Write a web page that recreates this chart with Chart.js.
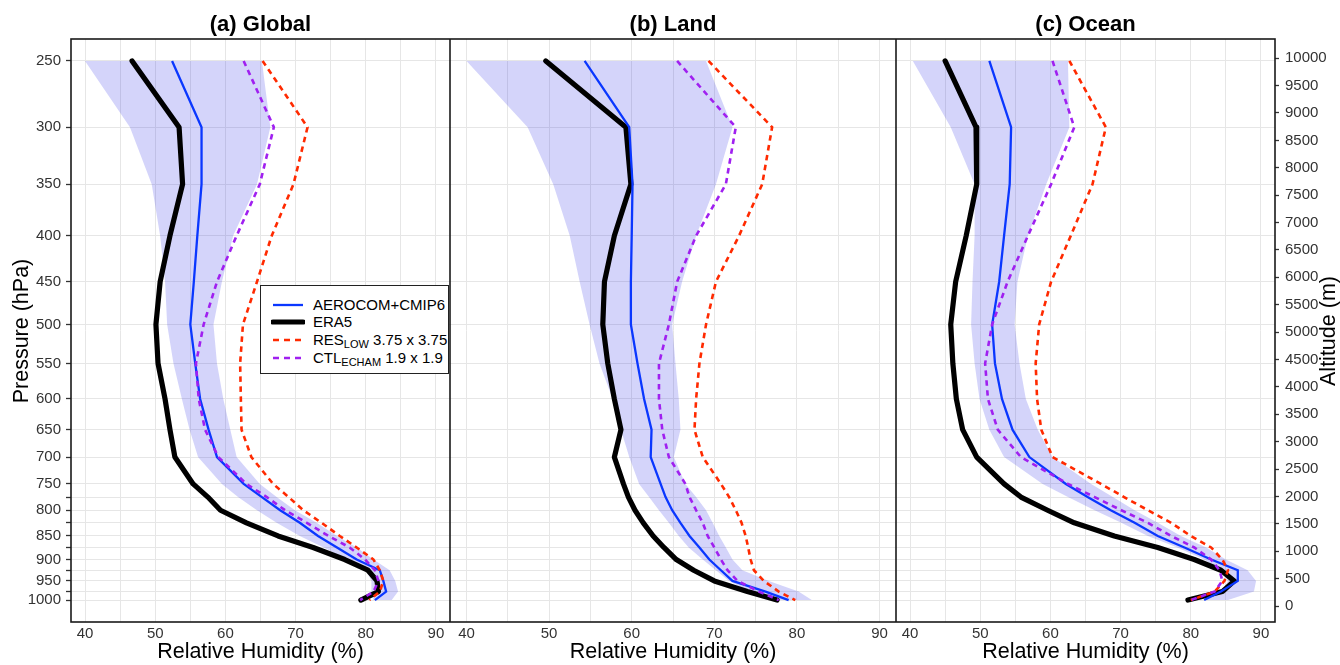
<!DOCTYPE html>
<html>
<head>
<meta charset="utf-8">
<script src="https://cdn.jsdelivr.net/npm/chart.js@4.4.1/dist/chart.umd.min.js"></script>
<style>
  html, body { margin: 0; padding: 0; background: #fff; }
  body { width: 1340px; height: 665px; position: relative; overflow: hidden;
         font-family: "Liberation Sans", Arial, Helvetica, sans-serif; color: #000; }
  canvas { position: absolute; top: 0; }
  .ptitle { position: absolute; top: 13px; height: 22px; line-height: 22px; font-size: 22px;
            font-weight: bold; text-align: center; white-space: nowrap; }
  .xtitle { position: absolute; top: 640px; height: 22px; line-height: 22px; font-size: 21.5px;
            text-align: center; white-space: nowrap; }
  .ytitle { position: absolute; width: 200px; height: 22px; line-height: 22px; font-size: 21.5px;
            text-align: center; white-space: nowrap; transform: rotate(-90deg); }
  #legend { position: absolute; left: 260px; top: 285px; width: 189px; height: 89px;
            box-sizing: border-box; border: 1.5px solid #222; background: #fff; font-size: 15px; }
  #legend .row { position: absolute; left: 0; height: 18px; line-height: 18px; white-space: nowrap; }
  #legend svg { position: absolute; left: 10px; top: 0; }
  #legend .txt { position: absolute; left: 52px; top: 0; }
  #legend sub { font-size: 11px; vertical-align: -3px; line-height: 0; }
</style>
</head>
<body>
<canvas id="cA" width="450" height="665" style="left:0px"></canvas>
<canvas id="cB" width="446" height="665" style="left:450px"></canvas>
<canvas id="cC" width="444" height="665" style="left:896px"></canvas>

<div class="ptitle" style="left:71px;width:379px">(a) Global</div>
<div class="ptitle" style="left:450px;width:446px">(b) Land</div>
<div class="ptitle" style="left:896px;width:379px">(c) Ocean</div>

<div class="xtitle" style="left:71px;width:379px">Relative Humidity (%)</div>
<div class="xtitle" style="left:450px;width:446px">Relative Humidity (%)</div>
<div class="xtitle" style="left:896px;width:379px">Relative Humidity (%)</div>

<div class="ytitle" style="left:-79px;top:320px">Pressure (hPa)</div>
<div class="ytitle" style="left:1227.5px;top:320px">Altitude (m)</div>

<div id="legend"></div>

<script>
// ---------------- data ----------------
const pressureLevels = [250, 300, 350, 400, 450, 500, 550, 600, 650, 700, 750, 775, 800, 825, 850, 875, 900, 925, 950, 975, 1000];
// mean altitude (m) of each pressure level, as placed on the figure's altitude axis
const levelAltitude = [9950, 8740, 7700, 6760, 5920, 5140, 4430, 3780, 3220, 2720, 2230, 1990, 1750, 1520, 1280, 1070, 850, 655, 460, 265, 110];
const altitudeTicks = [0, 500, 1000, 1500, 2000, 2500, 3000, 3500, 4000, 4500, 5000, 5500, 6000, 6500, 7000, 7500, 8000, 8500, 9000, 9500, 10000];
const xGridValues = [40, 45, 50, 55, 60, 65, 70, 75, 80, 85, 90];
const xTickLabels = [40, 50, 60, 70, 80, 90];

const panelTitles = ['(a) Global', '(b) Land', '(c) Ocean'];
const seriesNames = ['AEROCOM+CMIP6', 'ERA5', 'RES_LOW 3.75 x 3.75', 'CTL_ECHAM 1.9 x 1.9'];

// (a) Global
const globalModel = [52.4, 56.6, 56.6, 56.0, 55.5, 55.0, 55.7, 56.4, 57.6, 58.8, 62.6, 65.2, 67.8, 70.6, 73.2, 75.9, 78.7, 82.0, 82.5, 82.9, 81.3];
const globalEra5  = [46.7, 53.4, 53.9, 52.1, 50.7, 50.1, 50.4, 51.4, 52.1, 52.8, 55.4, 57.5, 59.3, 63.0, 67.5, 72.5, 77.0, 80.3, 81.6, 81.8, 79.3];
const globalRes   = [65.3, 71.7, 69.7, 66.6, 64.5, 62.5, 62.1, 62.2, 62.3, 63.7, 66.8, 69.0, 71.1, 73.7, 76.3, 78.7, 81.1, 82.0, 82.5, 82.0, 80.5];
const globalCtl   = [62.6, 66.9, 64.9, 61.6, 58.8, 56.9, 55.8, 56.2, 57.1, 59.0, 63.0, 65.9, 68.5, 71.6, 74.7, 77.7, 79.9, 81.3, 81.8, 81.1, 79.2];
const globalMin   = [40.0, 46.4, 49.5, 50.7, 51.4, 51.7, 52.6, 53.8, 54.9, 56.1, 59.5, 61.8, 64.5, 67.3, 70.6, 74.0, 77.3, 80.1, 80.8, 80.8, 81.1];
const globalMax   = [65.2, 66.4, 64.5, 61.1, 59.5, 58.3, 58.8, 59.7, 60.7, 61.6, 64.9, 67.3, 69.9, 73.0, 75.9, 78.7, 81.1, 83.4, 84.2, 84.6, 83.7];

// (b) Land
const landModel = [54.3, 59.7, 60.1, 60.0, 59.9, 59.9, 60.7, 61.5, 62.4, 62.3, 63.5, 64.1, 64.9, 65.9, 67.0, 68.2, 69.4, 70.8, 72.2, 76.2, 79.0];
const landEra5  = [49.6, 59.3, 59.9, 57.9, 56.7, 56.5, 57.1, 57.9, 58.7, 57.9, 59.0, 59.6, 60.4, 61.4, 62.6, 63.9, 65.4, 67.5, 70.0, 74.0, 77.6];
const landRes   = [69.3, 77.0, 75.8, 73.0, 70.2, 69.0, 68.2, 67.8, 67.6, 68.6, 70.8, 71.8, 72.6, 73.3, 73.8, 74.1, 74.4, 74.8, 76.0, 77.8, 79.8];
const landCtl   = [65.5, 72.6, 71.4, 67.8, 65.5, 64.5, 63.3, 63.3, 63.7, 64.5, 66.5, 67.0, 67.8, 68.6, 69.2, 70.0, 70.8, 71.6, 72.8, 75.4, 77.8];
const landMin   = [40.0, 47.4, 50.5, 52.5, 53.7, 54.9, 56.1, 57.7, 58.7, 59.7, 60.9, 62.1, 63.3, 64.5, 65.7, 66.9, 68.6, 70.2, 71.8, 74.2, 76.6];
const landMax   = [69.0, 72.2, 70.2, 67.8, 66.1, 64.9, 65.3, 65.7, 65.9, 65.1, 66.5, 67.8, 69.0, 69.8, 70.6, 71.4, 72.2, 73.4, 76.6, 80.2, 81.8];

// (c) Ocean
const oceanModel = [51.3, 54.4, 54.2, 53.4, 52.7, 51.7, 52.1, 53.1, 54.6, 57.0, 62.2, 65.3, 68.6, 72.0, 75.3, 79.1, 82.9, 86.7, 86.7, 84.3, 81.9];
const oceanEra5  = [45.0, 49.4, 49.5, 48.0, 46.5, 45.8, 46.1, 46.6, 47.5, 49.5, 53.4, 55.8, 59.6, 63.4, 69.1, 75.3, 80.5, 84.3, 86.2, 84.5, 79.6];
const oceanRes   = [62.7, 67.9, 66.0, 62.9, 60.1, 58.4, 57.9, 58.1, 58.7, 60.3, 67.2, 70.5, 73.9, 77.2, 80.0, 82.9, 84.5, 85.3, 84.8, 83.4, 80.0];
const oceanCtl   = [60.3, 63.4, 60.1, 56.8, 53.9, 51.7, 50.7, 51.1, 52.5, 55.8, 62.5, 66.3, 70.1, 73.9, 77.2, 80.5, 82.9, 84.1, 84.5, 83.4, 80.0];
const oceanMin   = [40.4, 45.8, 49.2, 49.2, 48.9, 48.7, 49.2, 49.9, 51.3, 53.4, 58.9, 62.5, 66.3, 70.1, 73.9, 78.1, 81.9, 84.3, 85.3, 84.5, 81.9];
const oceanMax   = [62.5, 62.7, 59.4, 56.8, 55.3, 54.9, 55.6, 56.5, 58.2, 60.3, 65.8, 68.9, 72.0, 75.3, 78.6, 82.2, 85.0, 88.1, 89.3, 89.0, 85.3];

// ---------------- styles ----------------
const FONT = "'Liberation Sans', Arial, Helvetica, sans-serif";
Chart.defaults.font.family = FONT;
const Y_MIN = -290, Y_MAX = 10350;
const COL_MODEL = '#0a37ff', COL_ERA5 = '#000000', COL_RES = '#ff2a00', COL_CTL = '#a020f0';
const BAND = 'rgba(40,40,230,0.2)';
const GRID = '#e6e6e6', TICKTXT = '#333333';
const DASH = [5.5, 4.5];

function toPoints(arr) { return arr.map((v, i) => ({ x: v, y: levelAltitude[i] })); }

function makeDatasets(model, era5, res, ctl, lo, hi) {
  const band = toPoints(lo).concat(toPoints(hi).reverse());
  return [
    { label: seriesNames[3], data: toPoints(ctl), borderColor: COL_CTL, borderWidth: 2.6, borderDash: DASH, order: 1 },
    { label: seriesNames[2], data: toPoints(res), borderColor: COL_RES, borderWidth: 2.6, borderDash: DASH, order: 2 },
    { label: seriesNames[0], data: toPoints(model), borderColor: COL_MODEL, borderWidth: 2.3, order: 3 },
    { label: seriesNames[1], data: toPoints(era5), borderColor: COL_ERA5, borderWidth: 5.2, order: 4,
      borderCapStyle: 'round', borderJoinStyle: 'round' },
    { label: 'range', data: band, fill: 'shape', backgroundColor: BAND, borderColor: 'rgba(0,0,0,0)', borderWidth: 1, order: 5 }
  ];
}

function xScale() {
  return {
    type: 'linear', position: 'bottom', min: 38, max: 92,
    afterBuildTicks: s => { s.ticks = xGridValues.map(v => ({ value: v })); },
    afterFit: s => { s.height = 43; },
    ticks: { autoSkip: false, maxRotation: 0, minRotation: 0, padding: 3, color: TICKTXT, font: { size: 15 },
             callback: v => (xTickLabels.includes(v) ? String(v) : '') },
    grid: { color: GRID, lineWidth: 1, drawTicks: false },
    border: { display: false }
  };
}

function pressureScale(show) {
  return {
    type: 'linear', position: 'left', min: Y_MIN, max: Y_MAX,
    afterBuildTicks: s => { s.ticks = levelAltitude.map(v => ({ value: v })); },
    afterFit: s => { s.width = show ? 71 : 0; },
    ticks: { display: show, autoSkip: false, padding: 5, color: TICKTXT, font: { size: 15 },
             callback: (v, i) => (pressureLevels[i] % 50 === 0 ? String(pressureLevels[i]) : '') },
    grid: { color: GRID, lineWidth: 1, drawTicks: show, tickLength: 5, tickColor: '#333', tickWidth: 1.3 },
    border: { display: false }
  };
}

function altitudeScale() {
  return {
    type: 'linear', position: 'right', min: Y_MIN, max: Y_MAX,
    afterBuildTicks: s => { s.ticks = altitudeTicks.map(v => ({ value: v })); },
    afterFit: s => { s.width = 65; },
    ticks: { autoSkip: false, padding: 6, color: TICKTXT, font: { size: 15 }, callback: v => String(v) },
    grid: { drawOnChartArea: false, drawTicks: true, tickLength: 4, tickColor: '#333', tickWidth: 1.3 },
    border: { display: false }
  };
}

const panelBorder = {
  id: 'panelBorder',
  afterDraw(chart) {
    const { ctx, chartArea: a } = chart;
    ctx.save();
    ctx.strokeStyle = '#1a1a1a';
    ctx.lineWidth = 1.6;
    ctx.strokeRect(a.left, a.top, a.right - a.left, a.bottom - a.top);
    ctx.restore();
  }
};

function makeChart(id, datasets, scales) {
  return new Chart(document.getElementById(id), {
    type: 'line',
    data: { datasets },
    options: {
      responsive: false, animation: false, events: [],
      layout: { padding: { top: 39, left: 0, right: 0, bottom: 0 } },
      elements: { point: { radius: 0, hoverRadius: 0 }, line: { tension: 0 } },
      plugins: { legend: { display: false }, tooltip: { enabled: false }, title: { display: false } },
      scales
    },
    plugins: [panelBorder]
  });
}

makeChart('cA', makeDatasets(globalModel, globalEra5, globalRes, globalCtl, globalMin, globalMax),
  { x: xScale(), y: pressureScale(true) });
makeChart('cB', makeDatasets(landModel, landEra5, landRes, landCtl, landMin, landMax),
  { x: xScale(), y: pressureScale(false) });
makeChart('cC', makeDatasets(oceanModel, oceanEra5, oceanRes, oceanCtl, oceanMin, oceanMax),
  { x: xScale(), y: pressureScale(false), y2: altitudeScale() });

// ---------------- legend (HTML, with subscripts) ----------------
const legendItems = [
  { html: 'AEROCOM+CMIP6', color: COL_MODEL, width: 2.3, dash: null, cap: 'butt' },
  { html: 'ERA5', color: COL_ERA5, width: 5.2, dash: null, cap: 'round' },
  { html: 'RES<sub>LOW</sub> 3.75 x 3.75', color: COL_RES, width: 2.6, dash: '6,5', cap: 'butt' },
  { html: 'CTL<sub>ECHAM</sub> 1.9 x 1.9', color: COL_CTL, width: 2.6, dash: '6,5', cap: 'butt' }
];
const legendRowCenters = [18.5, 36.3, 54.1, 71.9];
const lg = document.getElementById('legend');
legendItems.forEach((it, i) => {
  const row = document.createElement('div');
  row.className = 'row';
  row.style.top = (legendRowCenters[i] - 9) + 'px';
  row.style.width = '185px';
  const dashAttr = it.dash ? ` stroke-dasharray="${it.dash}"` : '';
  row.innerHTML =
    `<svg width="34" height="18"><line x1="2" y1="9" x2="32" y2="9" stroke="${it.color}" stroke-width="${it.width}" stroke-linecap="${it.cap}"${dashAttr}/></svg>` +
    `<span class="txt">${it.html}</span>`;
  lg.appendChild(row);
});
</script>
</body>
</html>
